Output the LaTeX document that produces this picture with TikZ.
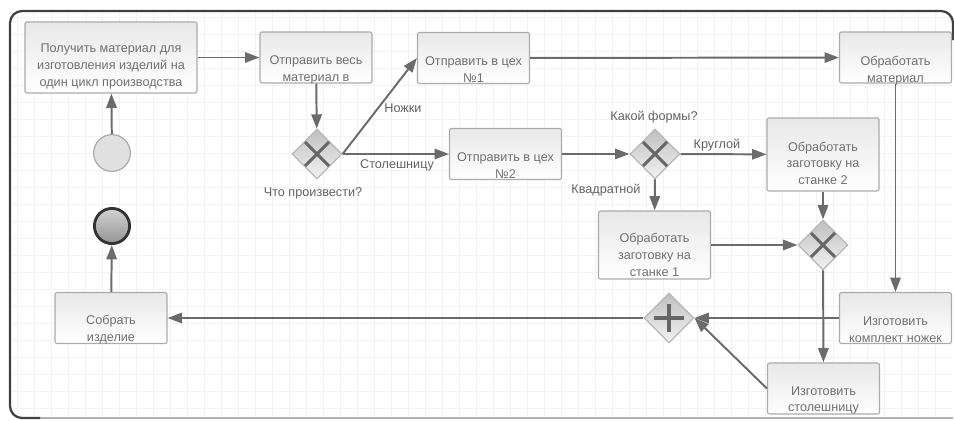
\documentclass[tikz,border=0pt]{standalone}
\usepackage{fontspec}
\setmainfont{Liberation Sans}
\usetikzlibrary{calc,positioning,arrows.meta,shapes.geometric}

\tikzset{
  task/.style={draw=black!33, line width=0.8pt, rounded corners=1.5pt,
    top color=black!9, bottom color=white,
    minimum width=2.8cm, minimum height=1.275cm, inner sep=0pt},
  task label/.style={text=black!56, align=center, font=\fontsize{9}{12}\selectfont},
  gateway/.style={diamond, draw=black!28, line width=0.8pt,
    top color=black!25, bottom color=black!5,
    minimum width=1.25cm, minimum height=1.25cm, inner sep=0pt},
  gate mark/.style={black!60, line width=2.2pt},
  flow/.style={black!58, line width=1.4pt, -{Triangle[length=0.36cm,width=0.26cm]}},
  flow label/.style={text=black!62, font=\fontsize{9}{12}\selectfont, inner sep=1pt},
  start event/.style={circle, draw=black!35, line width=0.8pt, fill=black!12,
    minimum size=0.92cm, inner sep=0pt},
  end event/.style={circle, draw=black!80, line width=2pt,
    top color=black!18, bottom color=black!42, minimum size=0.88cm, inner sep=0pt}
}

\begin{document}
\begin{tikzpicture}[x=0.025cm,y=-0.025cm]
  \useasboundingbox (0,0) rectangle (954,421);

  % background grid and frame
  \draw[black!5, step=0.425cm] (12,416) grid (952,12);
  \draw[black!30, line width=1pt] (30,418) -- (953,418);
  \draw[black!75, line width=1.6pt, rounded corners=0.3cm] (40,418) -- (10,418) -- (10,11) -- (953,11) -- (953,40);

  % tasks
  \node[task, minimum width=4.3cm, minimum height=1.775cm] (get_material) at (111,57.5) {};
  \node[task] (send_all) at (316,57.5) {};
  \node[task] (shop1) at (473.5,58) {};
  \node[task] (process) at (895.5,57.5) {};
  \node[task] (shop2) at (505.5,154) {};
  \node[task, minimum height=1.825cm] (lathe2) at (823,154.5) {};
  \node[task, minimum height=1.7cm] (lathe1) at (654.5,245) {};
  \node[task] (legs) at (895.5,318) {};
  \node[task] (tabletop) at (823.5,388.5) {};
  \node[task] (assemble) at (111,318) {};

  \foreach \n/\s/\t in {get_material/0.22/{Получить материал для\\изготовления изделий на\\один цикл производства},
      send_all/0.32/{Отправить весь\\материал в},
      shop1/0.3/{Отправить в цех\\№1},
      process/0.32/{Обработать\\материал},
      shop2/0.3/{Отправить в цех\\№2},
      lathe2/0.22/{Обработать\\заготовку на\\станке 2},
      lathe1/0.24/{Обработать\\заготовку на\\станке 1},
      legs/0.3/{Изготовить\\комплект ножек},
      tabletop/0.3/{Изготовить\\столешницу},
      assemble/0.3/{Собрать\\изделие}}
  {
    \node[task label] (\n_label) at ([yshift=-\s cm]\n.center) {\t};
  }

  % gateways
  \node[gateway] (what_gate) at (317,154) {};
  \node[gateway] (shape_gate) at (655,154) {};
  \node[gateway] (merge_gate) at (823,245) {};
  \node[gateway] (join_gate) at (669,318) {};
  \foreach \g in {what_gate,shape_gate,merge_gate}
  {
    \draw[gate mark] ($(\g)+(-12,-12)$) -- ($(\g)+(12,12)$) ($(\g)+(-12,12)$) -- ($(\g)+(12,-12)$);
  }
  \draw[gate mark] ($(join_gate)+(-15,0)$) -- ($(join_gate)+(15,0)$) ($(join_gate)+(0,-14)$) -- ($(join_gate)+(0,14)$);

  % events
  \node[start event] (start) at (112,153) {};
  \node[end event] (finish) at (112,226) {};

  % flows
  \draw[flow] (start) -- (get_material);
  \draw[flow] (get_material) -- (send_all);
  \draw[flow] (send_all) -- (what_gate);
  \draw[flow] (what_gate.east) -- (shop1.west);
  \draw[flow] (what_gate.east) -- (shop2.west);
  \draw[flow] (shop1) -- (process);
  \draw[flow] (shop2) -- (shape_gate);
  \draw[flow] (shape_gate) -- (lathe2);
  \draw[flow] (shape_gate) -- (lathe1);
  \draw[flow] (lathe2) -- (merge_gate);
  \draw[flow] (lathe1) -- (merge_gate);
  \draw[flow] (merge_gate) -- (tabletop);
  \draw[flow] (process) -- (legs);
  \draw[flow] (legs) -- (join_gate);
  \draw[flow] (tabletop.west) -- (join_gate.east);
  \draw[flow] (join_gate) -- (assemble);
  \draw[flow] (assemble) -- (finish);

  % flow labels
  \node[flow label] (what_label) at (313,193) {Что произвести?};
  \node[flow label] (legs_flow_label) at (403,108) {Ножки};
  \node[flow label] (top_flow_label) at (397,165) {Столешницу};
  \node[flow label] (shape_label) at (654,117) {Какой формы?};
  \node[flow label] (round_label) at (717,145) {Круглой};
  \node[flow label] (square_label) at (606,190) {Квадратной};
\end{tikzpicture}
\end{document}
